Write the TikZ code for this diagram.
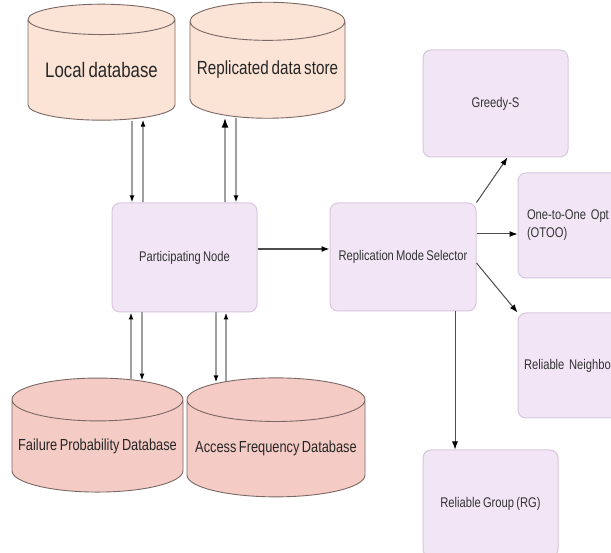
\documentclass[tikz,border=0pt]{standalone}
\usepackage{fontspec}
\setmainfont{Liberation Sans}[FakeStretch=0.8, WordSpace=0.7]
\usetikzlibrary{shapes.geometric,arrows.meta}

\definecolor{peach}{HTML}{FBE4D6}
\definecolor{salmon}{HTML}{F4CBC5}
\definecolor{lilac}{HTML}{F2E6F6}
\definecolor{lilacline}{HTML}{D9C6DE}
\definecolor{dbline}{HTML}{7A6864}

\tikzset{
  store/.style={shape=cylinder, shape border rotate=90, aspect=0.27,
    draw=dbline, line width=0.9pt, inner sep=0pt, text=black!85},
  box/.style={rectangle, rounded corners=8pt, fill=lilac, draw=lilacline,
    line width=1pt, inner sep=0pt, text=black!80,
    font=\fontsize{14}{18}\selectfont},
  pair/.style={draw=gray!75, line width=1.6pt,
    -{Latex[length=7pt,width=5pt,black]}},
  link/.style={draw=black!70, line width=1pt,
    -{Latex[length=8pt,width=6pt,black]}}
}

\begin{document}
\begin{tikzpicture}[x=1pt, y=-1pt]
  \useasboundingbox[fill=white] (0,0) rectangle (611,553);

  % data stores
  \node (ld) [store, fill=peach, minimum width=147pt, minimum height=116pt,
    font=\fontsize{21}{24}\selectfont] at (101.5,70) {Local database};
  \node (rds) [store, fill=peach, minimum width=155pt, minimum height=116pt,
    font=\fontsize{19}{22}\selectfont] at (267.5,70) {Replicated data store};
  \node (fpd) [store, fill=salmon, minimum width=171pt, minimum height=114pt,
    font=\fontsize{16}{20}\selectfont] at (97.5,446) {Failure Probability Database};
  \node (afd) [store, fill=salmon, minimum width=178pt, minimum height=119pt,
    font=\fontsize{16}{20}\selectfont] at (276,448.5) {Access Frequency Database};

  % processing boxes
  \node (pnode) [box, minimum width=145pt, minimum height=109pt]
    at (184.5,257.5) {Participating Node};
  \node (sel) [box, minimum width=146pt, minimum height=108pt]
    at (403,257) {Replication Mode Selector};
  \node (greedy) [box, minimum width=145pt, minimum height=107pt]
    at (495.5,103.5) {Greedy-S};
  \node (otoo) [box, minimum width=145pt, minimum height=105pt, align=left,
    text width=127pt] at (590.5,225.5) {One-to-One Opt\\(OTOO)};
  \node (rn) [box, minimum width=145pt, minimum height=105pt, align=left,
    text width=133pt] at (590.5,365.5) {Reliable Neighbo};
  \node (rg) [box, minimum width=135pt, minimum height=107pt]
    at (490.5,503.5) {Reliable Group (RG)};

  % store <-> participating node
  \draw[pair] ([xshift=30.5pt]ld.south) -- ([xshift=30.5pt]ld.south |- pnode.north);
  \draw[pair] ([xshift=41.5pt]ld.south |- pnode.north) -- ([xshift=41.5pt,yshift=1pt]ld.south);
  \draw[pair, -{Latex[length=10pt,width=7pt,black]}]
    ([xshift=-42.5pt]rds.south |- pnode.north) -- ([xshift=-42.5pt,yshift=1pt]rds.south);
  \draw[pair] ([xshift=-31.5pt,yshift=1pt]rds.south) -- ([xshift=-31.5pt]rds.south |- pnode.north);
  \draw[pair] ([xshift=33.5pt,yshift=-2pt]fpd.north) -- ([xshift=33.5pt]fpd.north |- pnode.south);
  \draw[pair] ([xshift=44.5pt]fpd.north |- pnode.south) -- ([xshift=44.5pt,yshift=-3pt]fpd.north);
  \draw[pair] ([xshift=-60pt]afd.north |- pnode.south) -- ([xshift=-60pt,yshift=-5pt]afd.north);
  \draw[pair] ([xshift=-50pt,yshift=-4pt]afd.north) -- ([xshift=-50pt]afd.north |- pnode.south);

  % selection of the replication mode
  \draw[link, line width=1.4pt] ([yshift=8.5pt]pnode.east) -- ([yshift=8.5pt]pnode.east -| sel.west);
  \draw[link] (sel.north east) -- ([xshift=12pt]greedy.south);
  \draw[link] ([yshift=23pt]sel.east) -- ([yshift=23pt]sel.east -| otoo.west);
  \draw[link] ([yshift=-6pt]sel.east) -- (rn.north west);
  \draw[link] ([xshift=52pt]sel.south) -- ([xshift=52pt]sel.south |- rg.north);
\end{tikzpicture}
\end{document}
